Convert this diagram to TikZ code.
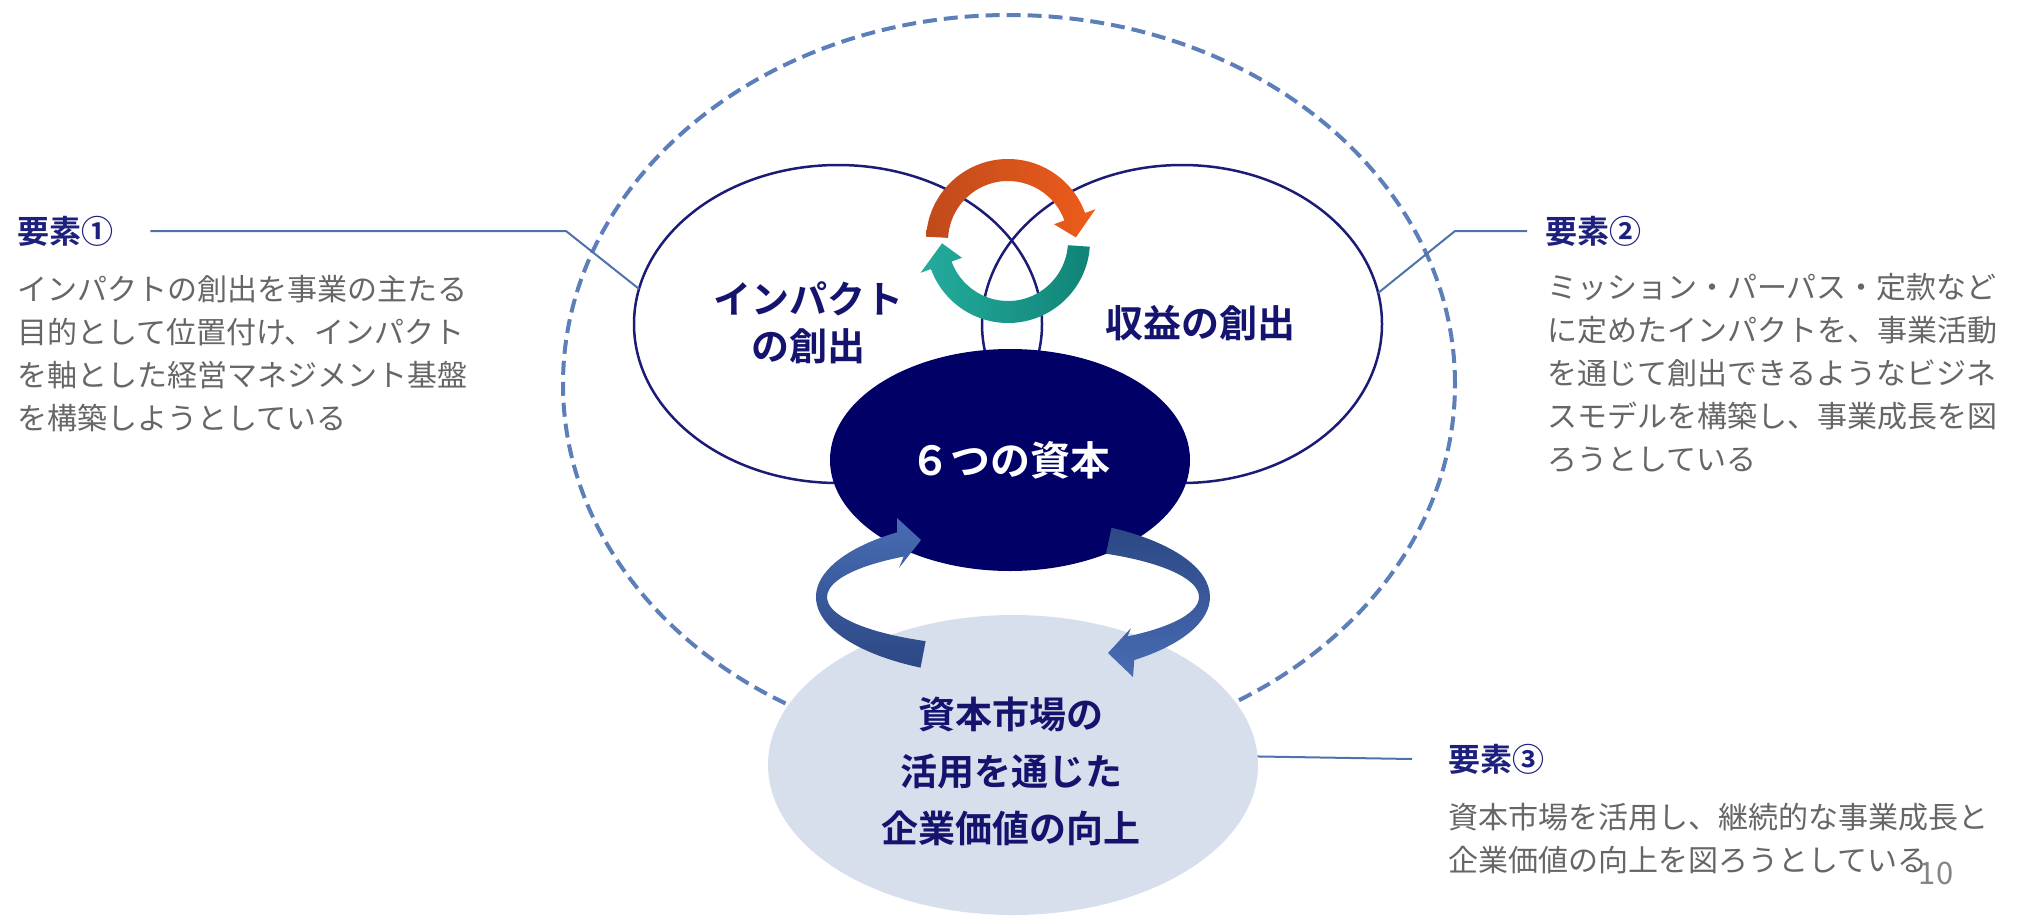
\documentclass[tikz,border=0pt]{standalone}
\usepackage{fontspec}
\newfontfamily\jp{Noto Sans CJK JP}[BoldFont={Noto Sans CJK JP Bold}]
\usetikzlibrary{shapes.geometric,calc}
\definecolor{navy}{RGB}{0,0,102}
\definecolor{labnavy}{RGB}{20,20,110}
\definecolor{ttl}{RGB}{30,32,125}
\definecolor{bodygray}{RGB}{102,102,102}
\definecolor{dashblue}{RGB}{92,126,185}
\definecolor{linkblue}{RGB}{78,114,172}
\definecolor{lightfill}{RGB}{215,222,236}
\definecolor{ringdark}{RGB}{44,72,132}
\definecolor{ringlight}{RGB}{72,108,180}
\definecolor{orgL}{RGB}{192,74,28}
\definecolor{orgR}{RGB}{238,92,26}
\definecolor{grnL}{RGB}{36,172,158}
\definecolor{grnR}{RGB}{16,132,118}
\definecolor{outl}{RGB}{28,28,118}
\begin{document}
\begin{tikzpicture}[x=1pt,y=1pt,
  oval/.style={ellipse, inner sep=0pt, outer sep=0pt},
  ttlstyle/.style={font=\jp\bfseries\fontsize{32}{36}\selectfont, text=ttl, inner sep=0pt, anchor=west},
  bodystyle/.style={font=\jp\fontsize{30}{43}\selectfont, text=bodygray, inner sep=0pt, anchor=north west, align=left},
  lab/.style={font=\jp\bfseries\fontsize{38}{47}\selectfont, text=labnavy, inner sep=0pt, align=center},
  link/.style={draw=linkblue, line width=2pt},
]
\useasboundingbox (0,0) rectangle (2022,-916);

% outer dashed ellipse
\node[oval, draw=dashblue, line width=4pt, dash pattern=on 14pt off 7pt,
      minimum width=892pt, minimum height=738pt] (D) at (1009,-384) {};
% capital market ellipse
\node[oval, fill=lightfill, minimum width=490pt, minimum height=300pt] (M) at (1013,-765) {};
% two overlapping ellipses
\node[oval, draw=outl, line width=2.5pt, minimum width=408pt, minimum height=318pt] (L) at (838,-324) {};
\node[oval, draw=outl, line width=2.5pt, minimum width=400pt, minimum height=318pt] (R) at (1182,-324) {};
% six capitals
\node[oval, fill=navy, minimum width=360pt, minimum height=222pt,
      font=\jp\bfseries\fontsize{40}{44}\selectfont, text=white] (C) at (1010,-460) {６つの資本};

% labels
\node[lab] (Ltxt) at (808,-323) {インパクト\\の創出};
\node[lab] (Rtxt) at (1200,-323) {収益の創出};
\node[lab, font=\jp\bfseries\fontsize{37}{57}\selectfont] (Mtxt) at (1011,-771) {資本市場の\\活用を通じた\\企業価値の向上};

% side texts
\node[ttlstyle] (t1) at (17,-231) {要素①};
\node[bodystyle] (b1) at (17,-275) {インパクトの創出を事業の主たる\\目的として位置付け、インパクト\\を軸とした経営マネジメント基盤\\を構築しようとしている};
\node[ttlstyle] (t2) at (1545,-231) {要素②};
\node[bodystyle] (b2) at (1547,-273) {ミッション・パーパス・定款など\\に定めたインパクトを、事業活動\\を通じて創出できるようなビジネ\\スモデルを構築し、事業成長を図\\ろうとしている};
\node[ttlstyle] (t3) at (1448,-759) {要素③};
\node[bodystyle] (b3) at (1448,-803) {資本市場を活用し、継続的な事業成長と\\企業価値の向上を図ろうとしている};
\node[font=\jp\fontsize{31}{34}\selectfont, text=bodygray!80, inner sep=0pt] (pg) at (1936,-873) {10};

% connectors
\coordinate (k1) at (566,-231);
\coordinate (k2) at (1455,-231);
\draw[link] ([xshift=37pt]t1.east) -- (k1) -- (L.170);
\draw[link] (R.9) -- (k2) -- ([xshift=-18pt]t2.west);
\draw[link] (M.2) -- ([xshift=-36pt]t3.west);

% orange / green cycle
\coordinate (rc) at (1008,-241);
\shade[left color=orgL, right color=orgR]
  ([shift={(177:82pt)}]rc) arc[start angle=177, end angle=20, radius=82pt]
  -- ([shift={(20:93pt)}]rc) -- ([shift={(3:68pt)}]rc) -- ([shift={(20:49pt)}]rc)
  -- ([shift={(20:60pt)}]rc) arc[start angle=20, end angle=177, radius=60pt] -- cycle;
\shade[left color=grnL, right color=grnR]
  ([shift={(-4:82pt)}]rc) arc[start angle=-4, end angle=-160, radius=82pt]
  -- ([shift={(-160:93pt)}]rc) -- ([shift={(-178:66pt)}]rc) -- ([shift={(-160:49pt)}]rc)
  -- ([shift={(-160:60pt)}]rc) arc[start angle=-160, end angle=-4, radius=60pt] -- cycle;

% blue ring arrows
\coordinate (bc) at (1013,-597);
\shade[top color=ringlight, bottom color=ringdark]
  ([shift={(242:197pt and 80pt)}]bc) arc[start angle=242, end angle=126, x radius=197pt, y radius=80pt]
  -- ([shift={(-116pt,79pt)}]bc) -- ([shift={(-92pt,57pt)}]bc) -- ([shift={(-114pt,29pt)}]bc)
  -- ([shift={(126:186pt and 50pt)}]bc) arc[start angle=126, end angle=242, x radius=186pt, y radius=50pt] -- cycle;
\shade[top color=ringdark, bottom color=ringlight]
  ([shift={(60:197pt and 80pt)}]bc) arc[start angle=60, end angle=-52, x radius=197pt, y radius=80pt]
  -- ([shift={(120pt,-80pt)}]bc) -- ([shift={(95pt,-56pt)}]bc) -- ([shift={(118pt,-31pt)}]bc)
  -- ([shift={(-52:186pt and 50pt)}]bc) arc[start angle=-52, end angle=60, x radius=186pt, y radius=50pt] -- cycle;
\end{tikzpicture}
\end{document}
